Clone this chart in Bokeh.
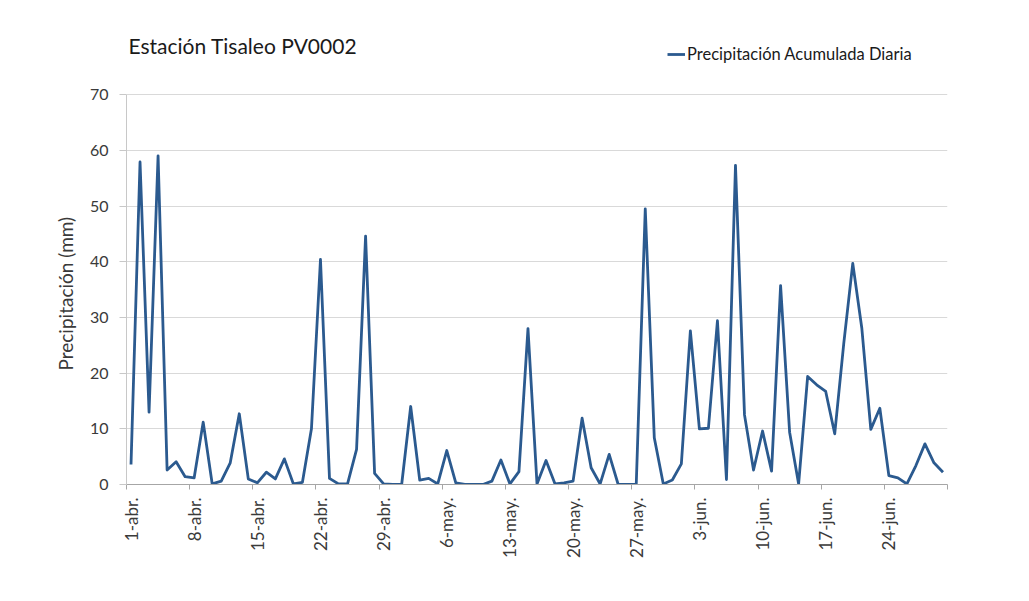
import math
import pandas as pd
from bokeh.plotting import figure
from bokeh.models import Range1d, FixedTicker, Label, Legend, Title
from bokeh.embed import file_html
from bokeh.resources import INLINE

chart_title = "Estación  Tisaleo PV0002"
series_name = "Precipitación Acumulada Diaria"
y_axis_label = "Precipitación (mm)"

# daily dates, 1 April to 30 June
dates = pd.date_range("2015-04-01", "2015-06-30", freq="D")

# daily accumulated precipitation (mm)
precip = [3.6, 57.9, 13.0, 59.0, 2.6, 4.1, 1.4, 1.2, 11.2, 0.1,
          0.6, 3.9, 12.7, 1.0, 0.3, 2.2, 1.0, 4.6, 0.1, 0.4,
          10.0, 40.4, 1.1, 0.1, 0.1, 6.3, 44.6, 2.0, 0.1, 0.0,
          0.0, 14.0, 0.8, 1.1, 0.1, 6.1, 0.3, 0.0, 0.0, 0.0,
          0.6, 4.4, 0.1, 2.3, 28.0, 0.1, 4.3, 0.1, 0.3, 0.6,
          11.9, 3.0, 0.1, 5.4, 0.0, 0.0, 0.0, 49.5, 8.4, 0.1,
          0.8, 3.7, 27.6, 10.0, 10.1, 29.4, 0.9, 57.3, 12.5, 2.6,
          9.6, 2.4, 35.7, 9.4, 0.1, 19.4, 17.9, 16.7, 9.1, 25.3,
          39.7, 28.1, 9.9, 13.7, 1.6, 1.2, 0.1, 3.4, 7.3, 3.9,
          2.2]

tick_labels = ["1-abr.", "8-abr.", "15-abr.", "22-abr.", "29-abr.", "6-may.",
               "13-may.", "20-may.", "27-may.", "3-jun.", "10-jun.", "17-jun.",
               "24-jun."]
y_ticks = [0, 10, 20, 30, 40, 50, 60, 70]

n = len(dates)
day_index = list(range(n))
label_days = [i for i in day_index if i % 7 == 0]
boundaries = [d - 0.5 for d in label_days] + [n - 0.5]

FONT = "Lato"
TXT = "#3a3a3a"

# frame extends to the top of the canvas so that title and legend sit inside it;
# the y axis and grid are bounded to 0..70
p = figure(width=1029, height=601, output_backend="svg", toolbar_location=None,
           x_range=Range1d(-0.5, n - 0.5), y_range=Range1d(0, 86.9),
           min_border_left=126, min_border_right=82, min_border_top=0,
           min_border_bottom=117)
p.outline_line_color = None
p.background_fill_color = "white"
p.border_fill_color = "white"

line = p.line(day_index, precip, line_color="#2B5A8F", line_width=2.8,
              line_join="round")

# x axis
xa = p.xaxis[0]
xa.ticker = FixedTicker(ticks=label_days, minor_ticks=boundaries)
xa.major_label_overrides = {d: lab for d, lab in zip(label_days, tick_labels)}
xa.major_label_orientation = math.pi / 2
xa.major_tick_line_color = None
xa.major_tick_out = 5
xa.major_tick_in = 0
xa.minor_tick_out = 5
xa.minor_tick_in = 0
xa.minor_tick_line_color = "#a6a6a6"
xa.axis_line_color = "#a6a6a6"
xa.major_label_standoff = 8
xa.major_label_text_font = FONT
xa.major_label_text_font_size = "17px"
xa.major_label_text_color = TXT

# y axis
ya = p.yaxis[0]
ya.ticker = FixedTicker(ticks=y_ticks, minor_ticks=[])
ya.bounds = (y_ticks[0], y_ticks[-1])
ya.major_tick_out = 7
ya.major_tick_in = 0
ya.major_tick_line_color = "#c8c8c8"
ya.axis_line_color = "#c8c8c8"
ya.major_label_standoff = 11
ya.major_label_text_font = FONT
ya.major_label_text_font_size = "16px"
ya.major_label_text_color = TXT

# y-axis title, placed relative to the bottom of the 0..70 region
p.add_layout(Title(text=y_axis_label, align="left", offset=114, standoff=19,
                   text_font=FONT, text_font_size="19px", text_font_style="normal",
                   text_color=TXT), "left")

p.xgrid.visible = False
p.ygrid.grid_line_color = "#d9d9d9"
p.ygrid.grid_line_width = 1

# chart title
p.add_layout(Label(x=2, y=439, x_units="screen", y_units="screen",
                   text=chart_title, text_font=FONT, text_font_size="21px",
                   text_color="#1a1a1a", text_baseline="middle"))

legend = Legend(items=[(series_name, [line])], location=(541, 419),
                label_text_font=FONT, label_text_font_size="16.5px",
                label_text_color="#1a1a1a", glyph_width=18, glyph_height=22,
                label_height=22, label_standoff=2, padding=0, margin=0,
                spacing=0, border_line_color=None, background_fill_alpha=0)
p.add_layout(legend)

open("out.html", "w").write(file_html(p, INLINE))
